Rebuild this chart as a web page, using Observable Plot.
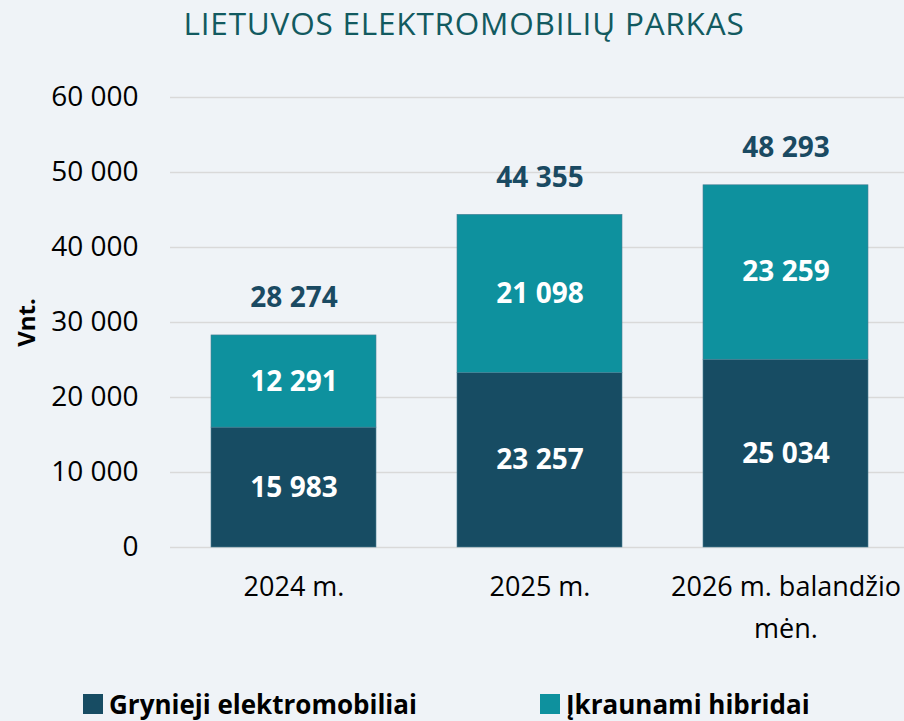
<!DOCTYPE html>
<html>
<head>
<meta charset="utf-8">
<script src="https://cdn.jsdelivr.net/npm/d3@7"></script>
<script src="https://cdn.jsdelivr.net/npm/@observablehq/plot@0.6"></script>
<style>
  html, body { margin: 0; padding: 0; background: #eff3f7; }
  body { width: 904px; height: 721px; position: relative; overflow: hidden; font-family: "Open Sans", sans-serif; }
  #title { position: absolute; left: 0; top: 0; width: 904px; height: 60px; text-align: center; line-height: 46px; font-size: 31.5px; letter-spacing: 0.8px; color: #125a60; padding-left: 24px; box-sizing: border-box; }
  #chart { position: absolute; left: 0; top: 60px; }
  #legend { position: absolute; left: 0; top: 680px; width: 904px; height: 41px; }
  .li { position: absolute; top: 6px; display: flex; align-items: center; font-weight: 700; font-size: 26px; color: #000; }
  .sw { width: 20px; height: 20px; margin-right: 6px; }
</style>
</head>
<body>
<div id="title">LIETUVOS ELEKTROMOBILIŲ PARKAS</div>
<div id="chart"></div>
<div id="legend"></div>
<script>
const categories = ["2024 m.", "2025 m.", "2026 m. balandžio\nmėn."];
const seriesNames = ["Grynieji elektromobiliai", "Įkraunami hibridai"];
const bevValues = [15983, 23257, 25034];
const phevValues = [12291, 21098, 23259];
const yTicks = [0, 10000, 20000, 30000, 40000, 50000, 60000];
const colors = ["#174c63", "#0e919e"];

const fmt = d3.formatLocale({thousands: "\u00a0", grouping: [3], decimal: ","}).format(",");

const rows = [];
categories.forEach((c, i) => {
  rows.push({cat: c, series: seriesNames[0], value: bevValues[i]});
  rows.push({cat: c, series: seriesNames[1], value: phevValues[i]});
});
const totals = categories.map((c, i) => ({cat: c, total: bevValues[i] + phevValues[i]}));

const plot = Plot.plot({
  width: 904,
  height: 600,
  marginLeft: 170,
  marginRight: 0,
  marginTop: 37,
  marginBottom: 113,
  style: {background: "transparent", fontFamily: "Open Sans, sans-serif"},
  x: {domain: categories, range: [169, 909], paddingInner: 0.33, paddingOuter: 0.166, label: null},
  y: {domain: [0, 60000], label: null},
  color: {domain: seriesNames, range: colors},
  marks: [
    Plot.gridY(yTicks, {stroke: "#d9d9d9", strokeOpacity: 1, strokeWidth: 1.5}),
    Plot.axisY({ticks: yTicks, tickSize: 0, tickPadding: 32, tickFormat: fmt, fontSize: 28, fill: "#000", label: null}),
    Plot.axisY({ticks: [], label: "Vnt.", labelAnchor: "center", labelArrow: "none", labelOffset: 153, fontSize: 24, fontWeight: 700, fill: "#000"}),
    Plot.axisX({tickSize: 0, tickPadding: 19, fontSize: 27, fill: "#000", lineHeight: 1.55, label: null, textOverflow: null}),
    Plot.barY(rows, {x: "cat", y: "value", fill: "series", stroke: "#4a7f93", strokeWidth: 0.6}),
    Plot.text(rows, Plot.stackY({x: "cat", y: "value", text: d => fmt(d.value), fill: "#fff", fontSize: 28, fontWeight: 700})),
    Plot.text(totals, {x: "cat", y: "total", text: d => fmt(d.total), dy: -37, fill: "#1a4a62", fontSize: 28, fontWeight: 700})
  ]
});
document.getElementById("chart").appendChild(plot);

const legend = document.getElementById("legend");
const lefts = [83, 540];
seriesNames.forEach((s, i) => {
  const el = document.createElement("div");
  el.className = "li";
  el.style.left = lefts[i] + "px";
  el.innerHTML = `<span class="sw" style="background:${colors[i]}"></span><span>${s}</span>`;
  legend.appendChild(el);
});
</script>
</body>
</html>
